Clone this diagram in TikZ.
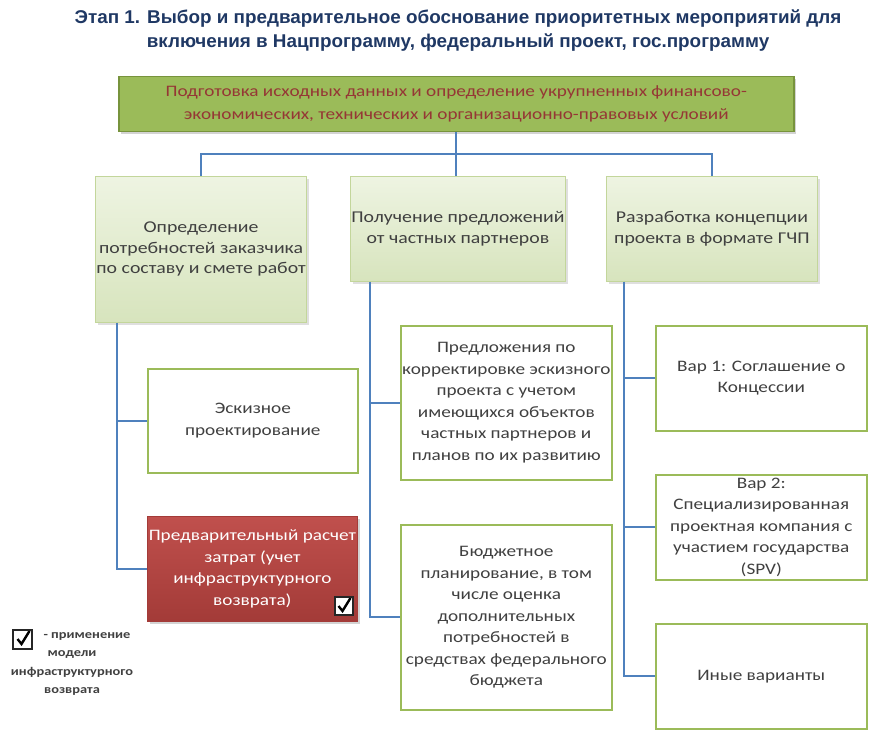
\documentclass[tikz,border=0pt]{standalone}
\usepackage{fontspec}
\setmainfont{Carlito}[FakeStretch=1.2]
\newfontfamily\zagolovokfont{Liberation Sans}[FakeStretch=1.02]
\usetikzlibrary{shadows}
\definecolor{sinij}{HTML}{4F81BD}
\definecolor{temnosinij}{HTML}{1F3864}
\definecolor{olivka}{HTML}{9BBB59}
\definecolor{olivkatemn}{HTML}{77933C}
\definecolor{salat}{HTML}{EEF4E2}
\definecolor{salattemn}{HTML}{D7E4BD}
\definecolor{ramka}{HTML}{C3D69B}
\definecolor{krasnyj}{HTML}{C0504D}
\definecolor{krasnyjtemn}{HTML}{A33B38}
\definecolor{bordo}{HTML}{953735}
\definecolor{seryj}{HTML}{404040}
\begin{document}
\begin{tikzpicture}[x=1pt,y=-1pt,
    blok/.style={rectangle, anchor=north west, align=center, inner xsep=1pt, inner ysep=1pt,
      text=seryj, font=\fontsize{16}{21.5}\selectfont},
    verh/.style={blok, fill=olivka, draw=olivkatemn, line width=1.5pt, text=bordo,
      font=\fontsize{16}{23}\selectfont, drop shadow={opacity=0.35}},
    uroven/.style={blok, draw=ramka, line width=0.8pt, top color=salat, bottom color=salattemn,
      font=\fontsize{16.5}{20.5}\selectfont, drop shadow={opacity=0.25}},
    podblok/.style={blok, draw=olivka, line width=1.6pt, fill=white},
    krasnblok/.style={blok, draw=krasnyjtemn, line width=0.8pt, top color=krasnyj,
      bottom color=krasnyjtemn, text=white, drop shadow={opacity=0.35}},
    svyaz/.style={draw=sinij, line width=2pt},
    galka/.style={rectangle, draw=black!85, line width=2pt, fill=white, minimum size=18pt,
      inner sep=0pt, path picture={
        \draw[black, line width=2.4pt]
          ([shift={(-5pt,0pt)}]path picture bounding box.center)
          -- ([shift={(-1pt,-5pt)}]path picture bounding box.center)
          -- ([shift={(7pt,8pt)}]path picture bounding box.center);}}
  ]
  % --- размеры ------------------------------------------------------
  \def\shir{211pt}
  \useasboundingbox (0,0) rectangle (880,730);
  % --- заголовок ----------------------------------------------------
  \node[font=\zagolovokfont\bfseries\fontsize{18.5}{24}\selectfont, text=temnosinij, align=center]
    (zagolovok) at (458,31) {Этап 1. Выбор и предварительное обоснование приоритетных мероприятий для\\
    включения в Нацпрограмму, федеральный проект, гос.программу};
  % --- верхний блок -------------------------------------------------
  \node[verh, minimum width=675pt, minimum height=55pt] (podgotovka) at (118,76)
    {Подготовка исходных данных и определение укрупненных финансово-\\
     экономических, технических и организационно-правовых условий};
  % --- первый уровень -----------------------------------------------
  \node[uroven, minimum width=\shir, minimum height=146pt] (opredelenie) at (95,176)
    {Определение\\потребностей заказчика\\по составу и смете работ};
  \node[uroven, minimum width=\shir, minimum height=105pt] (poluchenie) at (350,176)
    {Получение предложений\\от частных партнеров};
  \node[uroven, minimum width=\shir, minimum height=105pt] (razrabotka) at (606,176)
    {Разработка концепции\\проекта в формате ГЧП};
  % --- левая ветка --------------------------------------------------
  \node[podblok, minimum width=210pt, minimum height=104pt] (eskiz) at (147,368)
    {Эскизное\\проектирование};
  \node[krasnblok, minimum width=210pt, minimum height=105pt] (raschet) at (147,516)
    {Предварительный расчет\\затрат (учет\\инфраструктурного\\возврата)};
  \node[galka] (galkaraschet) at (343.5,606) {};
  % --- средняя ветка ------------------------------------------------
  \node[podblok, minimum width=\shir, minimum height=154pt] (predlozheniya) at (400,325)
    {Предложения по\\корректировке эскизного\\проекта с учетом\\имеющихся объектов\\частных партнеров и\\планов по их развитию};
  \node[podblok, minimum width=\shir, minimum height=185pt] (byudzhet) at (400,524)
    {Бюджетное\\планирование, в том\\числе оценка\\дополнительных\\потребностей в\\средствах федерального\\бюджета};
  % --- правая ветка -------------------------------------------------
  \node[podblok, minimum width=\shir, minimum height=105pt] (var1) at (655,325)
    {Вар 1: Соглашение о\\Концессии};
  \node[podblok, minimum width=\shir, minimum height=105pt] (var2) at (655,474)
    {Вар 2:\\Специализированная\\проектная компания с\\участием государства\\(SPV)};
  \node[podblok, minimum width=\shir, minimum height=105pt] (inye) at (655,623)
    {Иные варианты};
  % --- связи --------------------------------------------------------
  \coordinate (razvilka) at ([yshift=-22pt]podgotovka.south);
  \draw[svyaz] (podgotovka.south) -- (podgotovka.south |- poluchenie.north);
  \draw[svyaz] (opredelenie.north) |- (razvilka) -| (razrabotka.north);
  \draw[svyaz] ([xshift=22pt]opredelenie.south west) |- (eskiz.west);
  \draw[svyaz] ([xshift=22pt]opredelenie.south west) |- (raschet.west);
  \draw[svyaz] ([xshift=20pt]poluchenie.south west) |- (predlozheniya.west);
  \draw[svyaz] ([xshift=20pt]poluchenie.south west) |- (byudzhet.west);
  \draw[svyaz] ([xshift=18pt]razrabotka.south west) |- (var1.west);
  \draw[svyaz] ([xshift=18pt]razrabotka.south west) |- (var2.west);
  \draw[svyaz] ([xshift=18pt]razrabotka.south west) |- (inye.west);
  % --- легенда ------------------------------------------------------
  \node[galka, minimum size=19pt] (galkalegenda) at (22.5,639) {};
  \node[font=\bfseries\fontsize{12}{18.3}\selectfont, text=seryj, align=center] (legenda) at (72,664)
    {\hspace*{30pt}- применение\\модели\\инфраструктурного\\возврата};
\end{tikzpicture}
\end{document}
